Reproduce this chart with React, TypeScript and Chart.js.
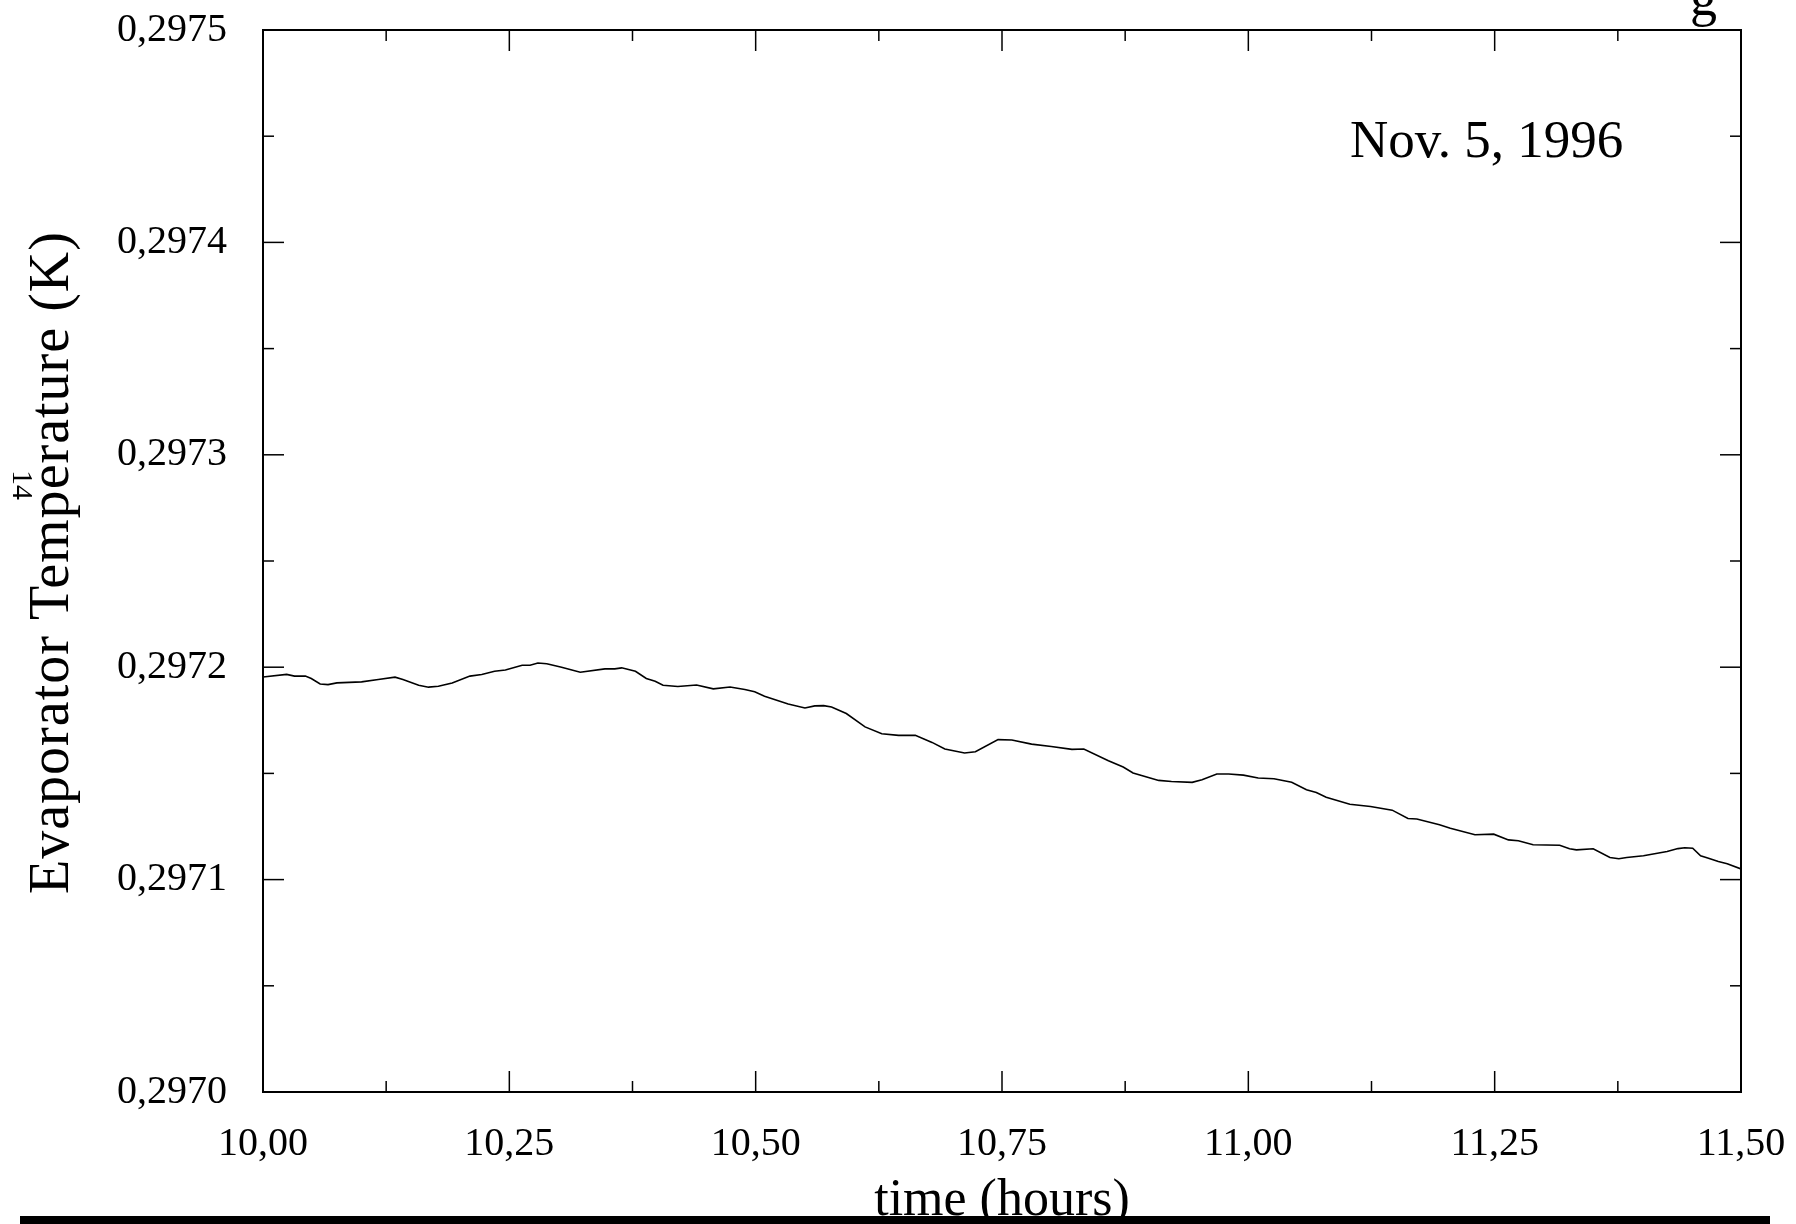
import React, { useEffect, useRef } from "react";
import { Chart, registerables } from "chart.js";

Chart.register(...registerables);

const FONT = "'Liberation Serif', 'Times New Roman', serif";

const timeHours = [
  10.0, 10.024, 10.032, 10.043, 10.049, 10.058, 10.066, 10.075, 10.1, 10.117,
  10.134, 10.142, 10.158, 10.168, 10.178, 10.192, 10.21, 10.222, 10.235, 10.246,
  10.263, 10.271, 10.279, 10.288, 10.303, 10.322, 10.347, 10.357, 10.364, 10.378,
  10.389, 10.398, 10.406, 10.421, 10.44, 10.457, 10.474, 10.489, 10.499, 10.509,
  10.533, 10.55, 10.56, 10.569, 10.577, 10.592, 10.611, 10.628, 10.645, 10.662,
  10.679, 10.692, 10.712, 10.723, 10.746, 10.76, 10.78, 10.8, 10.821, 10.833,
  10.858, 10.873, 10.883, 10.909, 10.922, 10.943, 10.953, 10.968, 10.98, 10.995,
  11.01, 11.026, 11.044, 11.059, 11.069, 11.079, 11.103, 11.124, 11.146, 11.162,
  11.171, 11.194, 11.205, 11.23, 11.249, 11.264, 11.274, 11.289, 11.316, 11.326,
  11.333, 11.35, 11.367, 11.376, 11.384, 11.401, 11.425, 11.436, 11.443, 11.451,
  11.459, 11.467, 11.477, 11.486, 11.5,
];

const evapTemp = [
  0.2971954, 0.2971966, 0.2971958, 0.2971958, 0.2971947, 0.2971921, 0.2971918, 0.2971926, 0.2971931, 0.2971942,
  0.2971953, 0.2971942, 0.2971915, 0.2971906, 0.297191, 0.2971926, 0.2971958, 0.2971966, 0.2971981, 0.2971987,
  0.2972009, 0.2972009, 0.297202, 0.2972016, 0.2972, 0.2971976, 0.2971992, 0.2971992, 0.2971997, 0.2971981,
  0.2971947, 0.2971934, 0.2971915, 0.2971909, 0.2971916, 0.2971898, 0.2971907, 0.2971895, 0.2971884, 0.2971863,
  0.2971827, 0.2971808, 0.2971818, 0.2971819, 0.2971813, 0.2971782, 0.2971719, 0.2971687, 0.2971679, 0.2971679,
  0.2971646, 0.2971615, 0.2971596, 0.2971602, 0.2971659, 0.2971657, 0.2971638, 0.2971627, 0.2971613, 0.2971615,
  0.297156, 0.297153, 0.2971502, 0.2971467, 0.2971462, 0.2971458, 0.297147, 0.2971497, 0.2971497, 0.2971492,
  0.2971478, 0.2971475, 0.2971458, 0.2971423, 0.297141, 0.2971388, 0.2971355, 0.2971344, 0.2971327, 0.2971288,
  0.2971285, 0.2971258, 0.2971242, 0.2971211, 0.2971214, 0.2971187, 0.2971183, 0.2971164, 0.2971162, 0.2971145,
  0.297114, 0.2971145, 0.2971104, 0.2971098, 0.2971104, 0.2971112, 0.2971132, 0.2971146, 0.297115, 0.2971148,
  0.2971112, 0.2971101, 0.2971085, 0.2971075, 0.297105,
];

const xTickValues = [10.0, 10.25, 10.5, 10.75, 11.0, 11.25, 11.5];
const yTickValues = [0.297, 0.2971, 0.2972, 0.2973, 0.2974, 0.2975];

const xTitle = "time (hours)";
const yTitle = "Evaporator Temperature (K)";
const dateNote = "Nov. 5, 1996";
const stray14 = "14";

const midpoints = (arr: number[]) =>
  arr.slice(0, -1).map((v, i) => (v + arr[i + 1]) / 2);

const framePlugin = {
  id: "frameTicks",
  afterDraw(chart: any) {
    const ctx = chart.ctx as CanvasRenderingContext2D;
    const { left, right, top, bottom } = chart.chartArea;
    const xs = chart.scales.x;
    const ys = chart.scales.y;
    ctx.save();
    ctx.strokeStyle = "#000";
    ctx.lineWidth = 1.5;
    const major = 21;
    const minor = 11;
    const tick = (x1: number, y1: number, x2: number, y2: number) => {
      ctx.beginPath();
      ctx.moveTo(x1, y1);
      ctx.lineTo(x2, y2);
      ctx.stroke();
    };
    xTickValues.forEach((v) => {
      const px = xs.getPixelForValue(v);
      tick(px, bottom, px, bottom - major);
      tick(px, top, px, top + major);
    });
    midpoints(xTickValues).forEach((v) => {
      const px = xs.getPixelForValue(v);
      tick(px, bottom, px, bottom - minor);
      tick(px, top, px, top + minor);
    });
    yTickValues.forEach((v) => {
      const py = ys.getPixelForValue(v);
      tick(left, py, left + major, py);
      tick(right, py, right - major, py);
    });
    midpoints(yTickValues).forEach((v) => {
      const py = ys.getPixelForValue(v);
      tick(left, py, left + minor, py);
      tick(right, py, right - minor, py);
    });
    ctx.lineWidth = 2;
    ctx.strokeRect(left, top, right - left, bottom - top);

    ctx.fillStyle = "#000";
    ctx.textAlign = "left";
    ctx.textBaseline = "alphabetic";

    // annotation
    ctx.font = `53px ${FONT}`;
    ctx.fillText(dateNote, 1350, 157);

    // stray caption glyph at top edge
    ctx.font = `54px ${FONT}`;
    ctx.fillText("g", 1690, 15);

    // y axis title (rotated, slightly letter-spaced)
    ctx.save();
    ctx.font = `56px ${FONT}`;
    const w = ctx.measureText(yTitle).width;
    const spacing = Math.max(0, (662 - w) / (yTitle.length - 1));
    (ctx as any).letterSpacing = `${spacing.toFixed(2)}px`;
    ctx.translate(68, 894);
    ctx.rotate(-Math.PI / 2);
    ctx.fillText(yTitle, 0, 0);
    ctx.restore();

    // stray rotated superscript
    ctx.save();
    ctx.translate(13, 470);
    ctx.rotate(Math.PI / 2);
    ctx.font = `30px ${FONT}`;
    ctx.fillText(stray14, 0, 0);
    ctx.restore();

    // bottom black bar
    ctx.fillRect(20, 1216, 1750, 8);
    ctx.restore();
  },
};

export default function App() {
  const ref = useRef<HTMLCanvasElement | null>(null);
  useEffect(() => {
    if (!ref.current) return;
    const chart = new Chart(ref.current, {
      type: "line",
      data: {
        datasets: [
          {
            data: timeHours.map((t, i) => ({ x: t, y: evapTemp[i] })),
            borderColor: "#000",
            borderWidth: 1.6,
            pointRadius: 0,
            tension: 0,
            fill: false,
          },
        ],
      },
      options: {
        animation: false,
        responsive: false,
        devicePixelRatio: 1,
        layout: { padding: { left: 0, right: 55, top: 30, bottom: 0 } },
        plugins: { legend: { display: false }, tooltip: { enabled: false } },
        scales: {
          x: {
            type: "linear",
            min: 10,
            max: 11.5,
            afterBuildTicks: (s: any) => {
              s.ticks = xTickValues.map((v) => ({ value: v }));
            },
            afterFit: (s: any) => {
              s.height = 132;
              s.paddingLeft = 0;
              s.paddingRight = 0;
            },
            grid: { display: false },
            border: { display: false },
            ticks: {
              color: "#000",
              font: { family: FONT, size: 40 },
              padding: 20,
              maxRotation: 0,
              autoSkip: false,
              callback: (v: any) => Number(v).toFixed(2).replace(".", ","),
            },
            title: {
              display: true,
              text: xTitle,
              color: "#000",
              font: { family: FONT, size: 52, lineHeight: 1 },
              padding: { top: 0, bottom: -3 },
            },
          },
          y: {
            type: "linear",
            min: 0.297,
            max: 0.2975,
            afterBuildTicks: (s: any) => {
              s.ticks = yTickValues.map((v) => ({ value: v }));
            },
            afterFit: (s: any) => {
              s.width = 263;
              s.paddingTop = 0;
              s.paddingBottom = 0;
            },
            grid: { display: false },
            border: { display: false },
            ticks: {
              color: "#000",
              font: { family: FONT, size: 40 },
              padding: 28,
              autoSkip: false,
              callback: (v: any) => Number(v).toFixed(4).replace(".", ","),
            },
            title: { display: false, text: yTitle },
          },
        },
      },
      plugins: [framePlugin],
    });
    return () => chart.destroy();
  }, []);
  return (
    <div style={{ position: "fixed", left: 0, top: 0, width: 1796, height: 1224, background: "#fff" }}>
      <canvas ref={ref} width={1796} height={1224} />
    </div>
  );
}
